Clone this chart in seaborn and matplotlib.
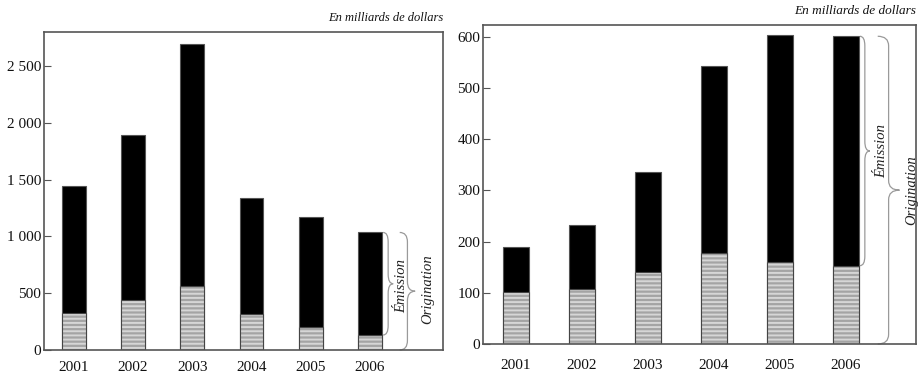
import matplotlib
matplotlib.use("Agg")
import matplotlib.pyplot as plt
from matplotlib.path import Path
from matplotlib.patches import PathPatch
import seaborn as sns
import pandas as pd

years = ["2001", "2002", "2003", "2004", "2005", "2006"]
# Left panel (en milliards de dollars)
left_total = [1440, 1890, 2690, 1337, 1168, 1035]
left_base = [330, 442, 560, 315, 203, 132]
left_ticks = [0, 500, 1000, 1500, 2000, 2500]
left_ticklabels = ["0", "500", "1 000", "1 500", "2 000", "2 500"]
# Right panel
right_total = [190, 232, 336, 542, 604, 601]
right_base = [102, 108, 141, 177, 161, 153]
right_ticks = [0, 100, 200, 300, 400, 500, 600]
right_ticklabels = ["0", "100", "200", "300", "400", "500", "600"]
unit_label = "En milliards de dollars"
brace_labels = ["Émission", "Origination"]

sns.set_theme(style="white")
plt.rcParams["font.family"] = ["Liberation Serif", "DejaVu Serif"]
plt.rcParams["hatch.linewidth"] = 1.4

fig = plt.figure(figsize=(9.21, 3.73), dpi=100)
W, H = 921, 373
ax1 = fig.add_axes([44 / W, 1 - 350 / H, (443 - 44) / W, (350 - 32) / H])
ax2 = fig.add_axes([483 / W, 1 - 344 / H, (916 - 483) / W, (344 - 25) / H])


def brace(ax, x, y0, y1, w, r, color):
    ym = (y0 + y1) / 2
    xm = x + w / 2
    verts = [(x, y1), (xm, y1), (xm, y1 - r),
             (xm, ym + r),
             (xm, ym), (x + w, ym),
             (xm, ym), (xm, ym - r),
             (xm, y0 + r),
             (xm, y0), (x, y0)]
    codes = [Path.MOVETO, Path.CURVE3, Path.CURVE3,
             Path.LINETO,
             Path.CURVE3, Path.CURVE3,
             Path.CURVE3, Path.CURVE3,
             Path.LINETO,
             Path.CURVE3, Path.CURVE3]
    ax.add_patch(PathPatch(Path(verts, codes), fill=False, edgecolor=color,
                           lw=0.9, clip_on=False))


def panel(ax, total, base, ticks, ticklabels, ylim, xlim_r, br, title_y):
    df = pd.DataFrame({"year": years, "total": total, "base": base})
    sns.barplot(data=df, x="year", y="total", order=years, color="black",
                width=0.4, saturation=1, edgecolor="#555555", linewidth=0.8, ax=ax)
    sns.barplot(data=df, x="year", y="base", order=years, color="#a4a4a4",
                width=0.4, saturation=1, edgecolor="#d6d6d6", linewidth=0, ax=ax,
                hatch="----")
    sns.barplot(data=df, x="year", y="base", order=years, fill=False,
                width=0.4, edgecolor="#444444", linewidth=0.8, ax=ax)
    ax.set_xlim(-0.5, xlim_r)
    ax.set_ylim(*ylim)
    ax.set_yticks(ticks)
    ax.set_yticklabels(ticklabels)
    ax.set_xlabel("")
    ax.set_ylabel("")
    for s in ax.spines.values():
        s.set_visible(True)
        s.set_color("#555555")
        s.set_linewidth(1.2)
    ax.tick_params(axis="y", direction="in", length=5, width=0.8, color="#555555",
                   labelsize=11, pad=2, left=True)
    ax.tick_params(axis="x", length=0, labelsize=11, pad=br["xpad"])
    for t in ax.get_xticklabels() + ax.get_yticklabels():
        t.set_color("#111111")
    # braces
    top = total[-1]
    low = base[-1]
    rng = ylim[1] - ylim[0]
    brace(ax, br["e_x"], low, top, br["e_w"], 0.03 * rng, "#9a9a9a")
    brace(ax, br["o_x"], 0, top, br["o_w"], 0.03 * rng, "#9a9a9a")
    ax.text(br["e_t"], (low + top) / 2 + br["e_dy"], brace_labels[0], rotation=90,
            ha="center", va="center", style="italic", fontsize=10.5, color="#222222")
    ax.text(br["o_t"], top / 2 + br["o_dy"], brace_labels[1], rotation=90,
            ha="center", va="center", style="italic", fontsize=10.5, color="#222222")
    ax.text(1.0, title_y, unit_label, transform=ax.transAxes, ha="right",
            va="bottom", style="italic", fontsize=br["tfs"], color="#111111")


panel(ax1, left_total, left_base, left_ticks, left_ticklabels, (0, 2800), 6.23,
      dict(e_x=5.22, e_w=0.17, e_t=5.53, o_x=5.5, o_w=0.26, o_t=5.98,
           e_dy=-20, o_dy=20, xpad=8, tfs=9), 1.025)
panel(ax2, right_total, right_base, right_ticks, right_ticklabels, (0, 623), 6.06,
      dict(e_x=5.21, e_w=0.15, e_t=5.54, o_x=5.48, o_w=0.33, o_t=5.99,
           e_dy=0, o_dy=0, xpad=11, tfs=9.5), 1.025)

fig.savefig("out.png", dpi=100)
